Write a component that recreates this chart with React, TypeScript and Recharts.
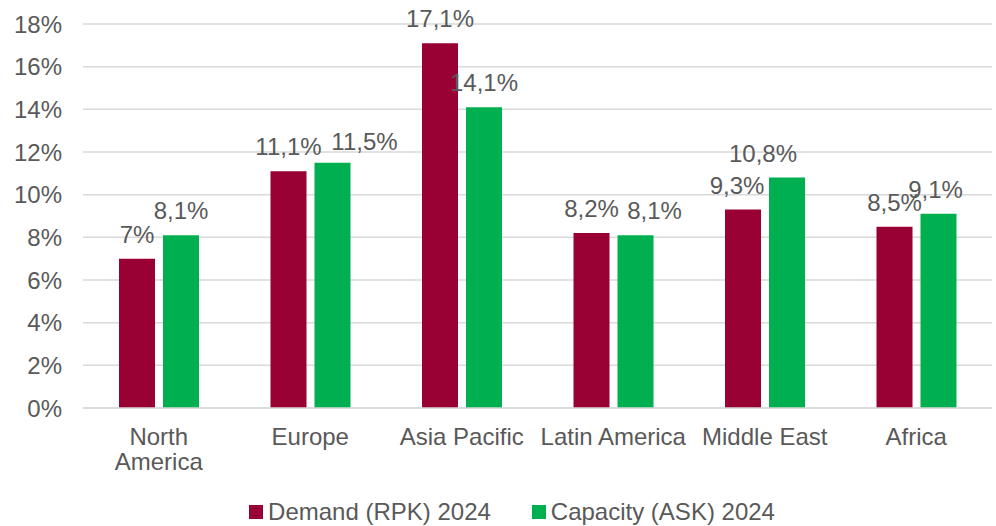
import React from 'react';
import { BarChart, Bar, XAxis, YAxis, CartesianGrid, Legend, LabelList } from 'recharts';

const regions = ['North\nAmerica', 'Europe', 'Asia Pacific', 'Latin America', 'Middle East', 'Africa'];
const demand = [7, 11.1, 17.1, 8.2, 9.3, 8.5];
const capacity = [8.1, 11.5, 14.1, 8.1, 10.8, 9.1];
const yTicks = [0, 2, 4, 6, 8, 10, 12, 14, 16, 18];

const seriesNames = ['Demand (RPK) 2024', 'Capacity (ASK) 2024'];
const seriesColors = ['#990033', '#00B050'];

// hand-moved labels in the original, [dx, dy] per category
const demandNudge = [[0, 0], [0, 0], [0, 0], [0, 0], [-6, 0], [0, 0]];
const capacityNudge = [[0, 0], [32, 3], [0, 0], [19, 0], [-24, 0], [-3, 0]];

const data = regions.map((region, i) => ({
  region,
  demand: demand[i],
  capacity: capacity[i],
}));

const textColor = '#595959';
const font = '"Liberation Sans", Arial, sans-serif';
const fontSize = 24;

const pct = (v: any) => `${String(v).replace('.', ',')}%`;

const makeLabel = (nudge: number[][]) => (props: any) => {
  const { x, y, width, value, index } = props;
  const [dx, dy] = nudge[index] || [0, 0];
  return (
    <text
      x={Number(x) + Number(width) / 2 + dx}
      y={Number(y) - 16 + dy}
      textAnchor="middle"
      fill={textColor}
      fontSize={fontSize}
      fontFamily={font}
    >
      {pct(value)}
    </text>
  );
};

const RegionTick = (props: any) => {
  const { x, y, payload } = props;
  const lines = String(payload.value).split('\n');
  return (
    <text x={x} y={y} textAnchor="middle" fill={textColor} fontSize={fontSize} fontFamily={font}>
      {lines.map((line, i) => (
        <tspan key={i} x={x} dy={i === 0 ? 37 : 25}>
          {line}
        </tspan>
      ))}
    </text>
  );
};

const LegendContent = () => (
  <div
    style={{
      display: 'flex',
      justifyContent: 'center',
      alignItems: 'center',
      height: 28,
      paddingLeft: 22,
      fontFamily: font,
      fontSize,
      color: textColor,
    }}
  >
    {seriesNames.map((name, i) => (
      <div key={name} style={{ display: 'flex', alignItems: 'center', marginRight: i === 0 ? 41 : 0 }}>
        <span style={{ width: 14, height: 14, background: seriesColors[i], marginRight: 5, display: 'inline-block' }} />
        <span>{name}</span>
      </div>
    ))}
  </div>
);

export default function App() {
  return (
    <div style={{ position: 'absolute', left: 0, top: 0, background: '#fff' }}>
      <BarChart
        width={996}
        height={526}
        data={data}
        margin={{ top: 24, right: 4, left: 10, bottom: 0 }}
        barSize={36}
        barGap={8}
      >
        <CartesianGrid vertical={false} stroke="#d9d9d9" strokeWidth={1.5} />
        <XAxis
          dataKey="region"
          height={90}
          interval={0}
          tickLine={false}
          tickSize={0}
          tickMargin={0}
          axisLine={{ stroke: '#d9d9d9', strokeWidth: 1.5 }}
          tick={<RegionTick />}
        />
        <YAxis
          width={73}
          domain={[0, 18]}
          ticks={yTicks}
          interval={0}
          axisLine={false}
          tickLine={false}
          tickMargin={15}
          tickFormatter={(v) => `${v}%`}
          tick={{ fill: textColor, fontSize, fontFamily: font }}
        />
        <Legend verticalAlign="bottom" content={<LegendContent />} />
        <Bar dataKey="demand" name={seriesNames[0]} fill={seriesColors[0]} isAnimationActive={false}>
          <LabelList dataKey="demand" content={makeLabel(demandNudge)} />
        </Bar>
        <Bar dataKey="capacity" name={seriesNames[1]} fill={seriesColors[1]} isAnimationActive={false}>
          <LabelList dataKey="capacity" content={makeLabel(capacityNudge)} />
        </Bar>
      </BarChart>
    </div>
  );
}
